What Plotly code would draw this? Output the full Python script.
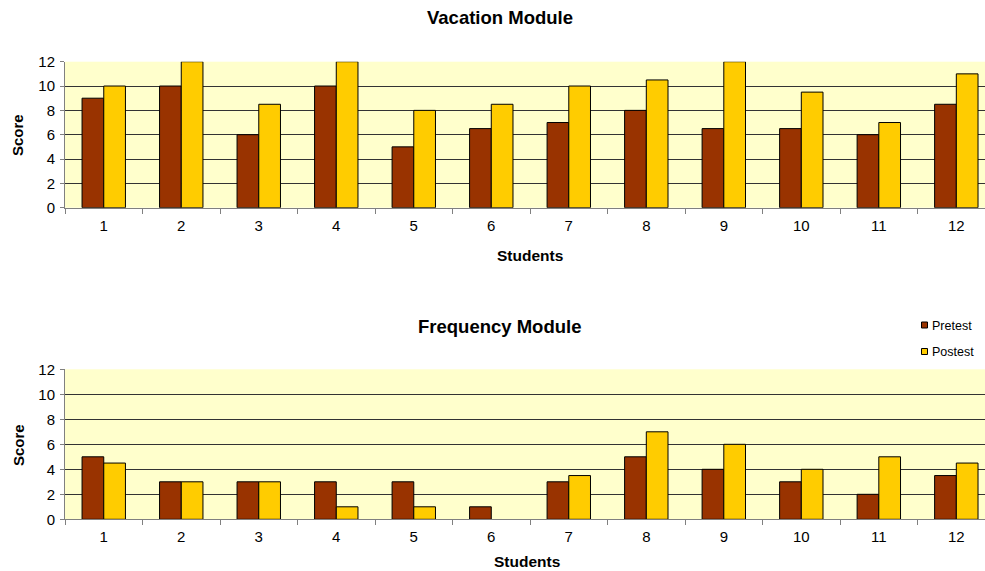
import plotly.graph_objects as go
from plotly.subplots import make_subplots

students = [str(i) for i in range(1, 13)]
vacation_pretest = [9, 10, 6, 10, 5, 6.5, 7, 8, 6.5, 6.5, 6, 8.5]
vacation_postest = [10, 12, 8.5, 12, 8, 8.5, 10, 10.5, 12, 9.5, 7, 11]
frequency_pretest = [5, 3, 3, 3, 3, 1, 3, 5, 4, 3, 2, 3.5]
frequency_postest = [4.5, 3, 3, 1, 1, 0, 3.5, 7, 6, 4, 5, 4.5]
y_ticks = [0, 2, 4, 6, 8, 10, 12]

PRE = "#993300"
POST = "#FFCC00"
BG = "#FFFFCC"
FONT = "Liberation Sans, Arial, sans-serif"

W, H = 985, 571
L = 65

fig = make_subplots(rows=2, cols=1)

def outline(vals):
    return dict(color="#000000", width=[1 if v else 0 for v in vals])

for row, pre, post in [(1, vacation_pretest, vacation_postest), (2, frequency_pretest, frequency_postest)]:
    fig.add_trace(go.Bar(x=students, y=pre, name="Pretest", marker=dict(color=PRE, line=outline(pre)),
                         showlegend=False), row=row, col=1)
    fig.add_trace(go.Bar(x=students, y=post, name="Postest", marker=dict(color=POST, line=outline(post)),
                         showlegend=False), row=row, col=1)

def py(p):
    return 1 - p / H

def px(p):
    return (p - L) / (W - L)

xcommon = dict(type="category", range=[-0.5, 11.37], tickson="boundaries", ticks="outside", ticklen=5,
               tickcolor="#808080", showline=True, linecolor="#808080", linewidth=1, showgrid=False,
               tickfont=dict(family=FONT, size=15, color="#000000"), automargin=False, ticklabelstandoff=4)
ycommon = dict(range=[0, 12], tickvals=y_ticks, ticks="outside", ticklen=4, tickcolor="#808080",
               showline=True, linecolor="#808080", linewidth=1, showgrid=True, gridcolor="#333333", gridwidth=1,
               tickfont=dict(family=FONT, size=15, color="#000000"), automargin=False, zeroline=False,
               mirror=False, ticklabelstandoff=2)

fig.update_layout(
    width=W, height=H,
    margin=dict(l=L, r=0, t=0, b=0),
    paper_bgcolor="white", plot_bgcolor=BG,
    barmode="group", bargap=0.44, bargroupgap=0,
    font=dict(family=FONT, color="#000000"),
    xaxis=dict(domain=[0, 1], **xcommon),
    xaxis2=dict(domain=[0, 1], **xcommon),
    yaxis=dict(domain=[py(207.7), py(61.7)], **ycommon),
    yaxis2=dict(domain=[py(519.3), py(369.3)], **ycommon),
)

annots = [
    dict(text="<b>Vacation Module</b>", x=px(500), y=py(18), font=dict(size=18.5)),
    dict(text="<b>Frequency Module</b>", x=px(499), y=py(326), font=dict(size=18.5)),
    dict(text="<b>Students</b>", x=px(529.5), y=py(255), font=dict(size=15.5)),
    dict(text="<b>Students</b>", x=px(527), y=py(561), font=dict(size=15.5)),
    dict(text="<b>Score</b>", x=px(18), y=py(135), font=dict(size=15), textangle=-90),
    dict(text="<b>Score</b>", x=px(18), y=py(445), font=dict(size=15), textangle=-90),
    dict(text="Pretest", x=px(929.5), y=py(326), font=dict(size=12.5), xanchor="left"),
    dict(text="Postest", x=px(929.5), y=py(352), font=dict(size=12.5), xanchor="left"),
]
for a in annots:
    base = dict(xref="paper", yref="paper", showarrow=False, xanchor="center", yanchor="middle")
    base.update(a)
    base["font"] = dict(family=FONT, color="#000000", **a["font"])
    fig.add_annotation(**base)

for color, yc in [(PRE, 325), (POST, 351.5)]:
    fig.add_shape(type="rect", xref="paper", yref="paper",
                  x0=px(921.5), x1=px(927.5), y0=py(yc + 3), y1=py(yc - 3),
                  fillcolor=color, line=dict(color="#000000", width=1))

fig.write_html("out.html", config={"displayModeBar": False},
               post_script="document.body.style.margin='0';document.body.style.overflow='hidden';")
